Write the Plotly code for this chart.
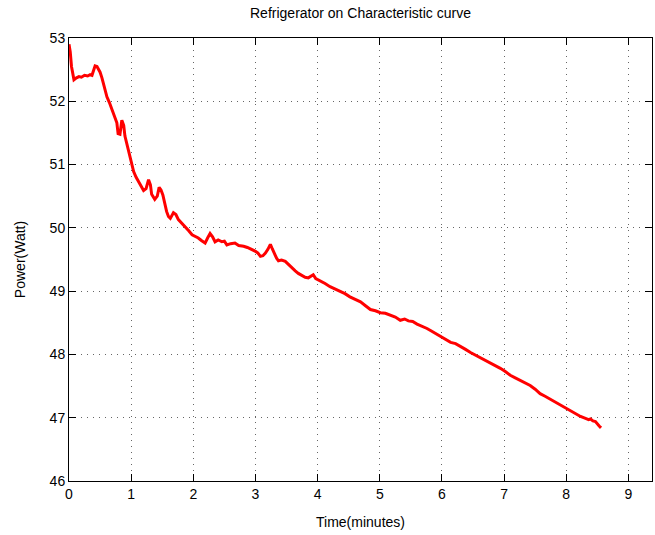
import plotly.graph_objects as go

# time in minutes, power in watts
time_min = [
    0.00, 0.02, 0.04, 0.06, 0.08, 0.12, 0.16, 0.20, 0.25, 0.30, 0.34, 0.37, 0.40, 0.42, 0.45,
    0.47, 0.50, 0.53, 0.57, 0.61, 0.65, 0.69, 0.73, 0.77, 0.79, 0.82, 0.85, 0.88, 0.90, 0.93,
    0.95, 0.98, 1.01, 1.04, 1.08, 1.12, 1.16, 1.20, 1.24, 1.28, 1.31, 1.33, 1.38, 1.42, 1.45,
    1.48, 1.51, 1.54, 1.57, 1.60, 1.63, 1.68, 1.72, 1.76, 1.82, 1.87, 1.93, 1.98, 2.03, 2.08,
    2.13, 2.19, 2.23, 2.27, 2.31, 2.35, 2.40, 2.46, 2.50, 2.54, 2.60, 2.67, 2.73, 2.81, 2.87,
    2.94, 3.00, 3.04, 3.08, 3.12, 3.16, 3.20, 3.24, 3.27, 3.30, 3.34, 3.37, 3.42, 3.48, 3.53,
    3.59, 3.64, 3.69, 3.75, 3.80, 3.85, 3.90, 3.93, 3.97, 4.01, 4.06, 4.12, 4.20, 4.27, 4.36,
    4.44, 4.52, 4.60, 4.69, 4.77, 4.85, 4.93, 5.01, 5.09, 5.17, 5.25, 5.33, 5.40, 5.46, 5.53,
    5.60, 5.68, 5.76, 5.83, 5.90, 6.00, 6.07, 6.14, 6.22, 6.30, 6.38, 6.46, 6.54, 6.62, 6.70,
    6.78, 6.86, 6.94, 7.02, 7.10, 7.18, 7.26, 7.34, 7.42, 7.50, 7.58, 7.66, 7.75, 7.83, 7.91,
    7.99, 8.07, 8.15, 8.23, 8.31, 8.36, 8.39, 8.43, 8.47, 8.50, 8.53, 8.56,
]
power_w = [
    52.90, 52.78, 52.55, 52.40, 52.34, 52.37, 52.39, 52.38, 52.41, 52.40, 52.42, 52.41, 52.50, 52.56, 52.55,
    52.51, 52.46, 52.37, 52.22, 52.07, 51.98, 51.87, 51.78, 51.66, 51.49, 51.48, 51.70, 51.62, 51.45, 51.33,
    51.25, 51.10, 50.98, 50.89, 50.80, 50.73, 50.67, 50.59, 50.62, 50.76, 50.68, 50.53, 50.45, 50.50, 50.64,
    50.60, 50.52, 50.36, 50.26, 50.18, 50.15, 50.24, 50.21, 50.13, 50.07, 50.02, 49.95, 49.89, 49.87, 49.84,
    49.80, 49.76, 49.84, 49.91, 49.86, 49.78, 49.81, 49.78, 49.79, 49.73, 49.75, 49.76, 49.72, 49.71, 49.69,
    49.66, 49.63, 49.60, 49.55, 49.56, 49.60, 49.66, 49.74, 49.67, 49.60, 49.52, 49.48, 49.49, 49.47, 49.42,
    49.36, 49.32, 49.28, 49.25, 49.22, 49.21, 49.24, 49.26, 49.20, 49.18, 49.15, 49.12, 49.07, 49.04, 48.99,
    48.96, 48.91, 48.87, 48.83, 48.77, 48.71, 48.69, 48.66, 48.65, 48.62, 48.59, 48.54, 48.56, 48.53, 48.52,
    48.48, 48.45, 48.41, 48.37, 48.33, 48.27, 48.23, 48.19, 48.17, 48.13, 48.08, 48.03, 47.99, 47.95, 47.91,
    47.87, 47.83, 47.78, 47.73, 47.67, 47.63, 47.59, 47.55, 47.51, 47.45, 47.38, 47.34, 47.29, 47.24, 47.20,
    47.16, 47.12, 47.07, 47.02, 46.99, 46.97, 46.98, 46.95, 46.94, 46.90, 46.87, 46.84,
]

font = "Liberation Sans, Arial, sans-serif"

fig = go.Figure()
fig.add_trace(go.Scatter(
    x=time_min,
    y=power_w,
    mode="lines",
    line=dict(color="#ff0000", width=3),
    showlegend=False,
))

axis_style = dict(
    showline=True,
    linecolor="black",
    linewidth=1,
    mirror="allticks",
    ticks="inside",
    ticklen=7,
    tickcolor="black",
    showgrid=True,
    gridcolor="#666666",
    griddash="1px,5px",
    gridwidth=1,
    zeroline=False,
    tickfont=dict(family=font, size=14, color="black"),
)

fig.update_xaxes(
    range=[0, 9.38],
    tick0=0,
    dtick=1,
    title=dict(text="Time(minutes)", font=dict(family=font, size=14, color="black"), standoff=16),
    **axis_style,
)
fig.update_yaxes(
    range=[46, 53],
    tick0=46,
    dtick=1,
    title=dict(text="Power(Watt)", font=dict(family=font, size=14, color="black"), standoff=20),
    **axis_style,
)

fig.update_layout(
    width=655,
    height=535,
    margin=dict(l=69, r=3, t=38, b=54, autoexpand=False),
    paper_bgcolor="white",
    plot_bgcolor="white",
    title=dict(
        text="Refrigerator on Characteristic curve",
        font=dict(family=font, size=14, color="black"),
        x=0.5 + (69 - 3) / 2 / 655,
        xanchor="center",
        y=1 - 13 / 535,
        yanchor="middle",
    ),
)

# page has a default 8px body margin; drop it so the figure sits at 0,0
fig.write_html(
    "out.html",
    config={"displayModeBar": False},
    post_script="document.body.style.margin='0';",
)
